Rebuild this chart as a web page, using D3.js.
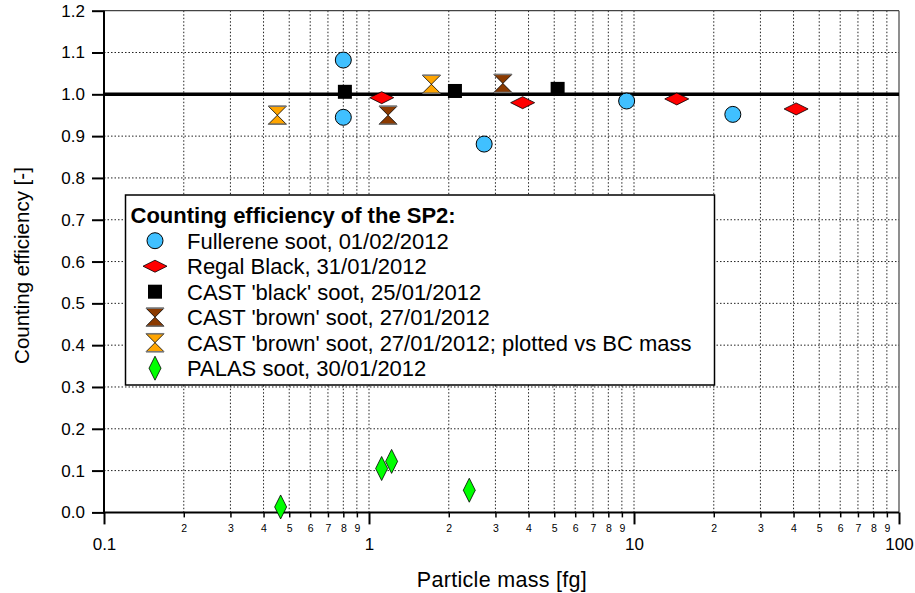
<!DOCTYPE html>
<html>
<head>
<meta charset="utf-8">
<script src="https://cdn.jsdelivr.net/npm/d3@7"></script>
<style>
  body { margin: 0; background: #fff; }
  text { font-family: "Liberation Sans", Arial, sans-serif; }
</style>
</head>
<body>
<script>
// series data: particle mass [fg] and counting efficiency [-]
var fullereneMass = [0.80, 0.80, 2.72, 9.38, 23.6];
var fullereneEff = [1.082, 0.945, 0.881, 0.984, 0.952];
var regalMass = [1.117, 3.80, 14.5, 40.9];
var regalEff = [0.992, 0.980, 0.989, 0.965];
var castBlackMass = [0.811, 2.11, 5.15];
var castBlackEff = [1.006, 1.008, 1.013];
var castBrownMass = [1.18, 3.20];
var castBrownEff = [0.950, 1.026];
var castBrownBCMass = [0.451, 1.72];
var castBrownBCEff = [0.950, 1.024];
var palasMass = [0.464, 1.116, 1.217, 2.39];
var palasEff = [0.013, 0.105, 0.122, 0.053];

var legendLabels = [
	'Fullerene soot, 01/02/2012',
	'Regal Black, 31/01/2012',
	"CAST 'black' soot, 25/01/2012",
	"CAST 'brown' soot, 27/01/2012",
	"CAST 'brown' soot, 27/01/2012; plotted vs BC mass",
	'PALAS soot, 30/01/2012'
];
var yTicks = [0, 0.1, 0.2, 0.3, 0.4, 0.5, 0.6, 0.7, 0.8, 0.9, 1.0, 1.1, 1.2];
var xMajorTicks = [0.1, 1, 10, 100];

var margin = { left: 104, right: 16, top: 10.7, bottom: 80.6 };
var W = 915, H = 593;
var width = W - margin.left - margin.right;
var height = H - margin.top - margin.bottom;

var svg = d3.select('body').append('svg').attr('width', W).attr('height', H);
var g = svg.append('g').attr('transform', 'translate(' + margin.left + ',' + margin.top + ')');

var x = d3.scaleLog().domain([0.1, 100]).range([0, width]);
var y = d3.scaleLinear().domain([0, 1.2]).range([height, 0]);

// minor ticks 2..9 for each decade
var xMinor = [];
[0.1, 1, 10].forEach(function(dec) {
	for (var k = 2; k <= 9; k++) xMinor.push(dec * k);
});

// grid
g.append('g').selectAll('line').data(xMinor.concat([1, 10])).enter().append('line')
	.attr('x1', function(d) { return x(d); }).attr('x2', function(d) { return x(d); })
	.attr('y1', 0).attr('y2', height)
	.attr('stroke', '#222').attr('stroke-width', 1).attr('stroke-dasharray', '1.5,2');
g.append('g').selectAll('line').data(yTicks.slice(1, -1)).enter().append('line')
	.attr('x1', 0).attr('x2', width)
	.attr('y1', function(d) { return y(d); }).attr('y2', function(d) { return y(d); })
	.attr('stroke', '#222').attr('stroke-width', 1).attr('stroke-dasharray', '1.5,2');

// frame top/right
g.append('line').attr('x1', 0).attr('x2', width).attr('y1', 0).attr('y2', 0)
	.attr('stroke', '#444').attr('stroke-width', 1.2);
g.append('line').attr('x1', width).attr('x2', width).attr('y1', 0).attr('y2', height)
	.attr('stroke', '#444').attr('stroke-width', 1.2);

// reference line at 1.0
g.append('line').attr('x1', 0).attr('x2', width).attr('y1', y(1)).attr('y2', y(1))
	.attr('stroke', '#000').attr('stroke-width', 3.5);

// y axis
var yAxis = g.append('g').call(d3.axisLeft(y).tickValues(yTicks).tickFormat(d3.format('.1f')).tickSize(12).tickPadding(7));
yAxis.select('.domain').attr('stroke-width', 2).attr('d', 'M0,' + (height + 1) + 'V0');
yAxis.selectAll('.tick line').attr('stroke-width', 2);
yAxis.selectAll('text').attr('font-size', 17).attr('font-family', 'Liberation Sans, Arial, sans-serif');

// x axis major
var xAxis = g.append('g').attr('transform', 'translate(0,' + height + ')')
	.call(d3.axisBottom(x).tickValues(xMajorTicks).tickFormat(function(d) { return String(d); }).tickSize(12));
xAxis.select('.domain').attr('stroke-width', 2).attr('d', 'M-1,0H' + width);
xAxis.selectAll('.tick line').attr('stroke-width', 2);
xAxis.selectAll('text').attr('font-size', 17).attr('font-family', 'Liberation Sans, Arial, sans-serif')
	.attr('y', 37.5).attr('dy', 0);

// x axis minor
var xAxisMinor = g.append('g').attr('transform', 'translate(0,' + height + ')')
	.call(d3.axisBottom(x).tickValues(xMinor).tickFormat(function(d) { return String(Math.round(d / Math.pow(10, Math.floor(Math.log10(d) + 1e-9)))); }).tickSize(5));
xAxisMinor.select('.domain').remove();
xAxisMinor.selectAll('.tick line').attr('stroke-width', 1.5);
xAxisMinor.selectAll('text').attr('font-size', 10.5).attr('font-family', 'Liberation Sans, Arial, sans-serif')
	.attr('y', 19.5).attr('dy', 0);

// axis titles
svg.append('text').attr('x', margin.left + width / 2 + 0.5).attr('y', 587)
	.attr('text-anchor', 'middle').attr('font-size', 21.5).attr('letter-spacing', 0.3).text('Particle mass [fg]');
svg.append('text').attr('transform', 'translate(29,' + (margin.top + height / 2 + 4) + ') rotate(-90)')
	.attr('text-anchor', 'middle').attr('font-size', 20.5).text('Counting efficiency [-]');

// symbols
function circle(sel) {
	sel.append('circle').attr('r', 8).attr('fill', '#40C0FF').attr('stroke', '#000').attr('stroke-width', 1);
}
function hDiamond(sel) {
	sel.append('path').attr('d', 'M-12,0L0,-6L12,0L0,6Z').attr('fill', '#FF0000').attr('stroke', '#000').attr('stroke-width', 0.8);
}
function square(sel) {
	sel.append('rect').attr('x', -7).attr('y', -7).attr('width', 14).attr('height', 14).attr('fill', '#000');
}
function hourglass(color) {
	return function(sel) {
		sel.append('path').attr('d', 'M-9,-9L9,-9L-9,9L9,9Z').attr('fill', color).attr('stroke', '#000').attr('stroke-width', 0.8);
		sel.append('line').attr('x1', -9).attr('x2', 9).attr('y1', -9).attr('y2', -9).attr('stroke', '#777').attr('stroke-width', 1.5);
		sel.append('line').attr('x1', -9).attr('x2', 9).attr('y1', 9).attr('y2', 9).attr('stroke', '#777').attr('stroke-width', 1.5);
	};
}
function vDiamond(sel) {
	sel.append('path').attr('d', 'M0,-12L6,0L0,12L-6,0Z').attr('fill', '#00FF00').attr('stroke', '#000').attr('stroke-width', 0.8);
}

var series = [
	{ mass: fullereneMass, eff: fullereneEff, sym: circle },
	{ mass: regalMass, eff: regalEff, sym: hDiamond },
	{ mass: castBlackMass, eff: castBlackEff, sym: square },
	{ mass: castBrownMass, eff: castBrownEff, sym: hourglass('#8B3A00') },
	{ mass: castBrownBCMass, eff: castBrownBCEff, sym: hourglass('#FFA500') },
	{ mass: palasMass, eff: palasEff, sym: vDiamond }
];

series.forEach(function(s) {
	var pts = s.mass.map(function(m, i) { return [m, s.eff[i]]; });
	g.append('g').selectAll('g').data(pts).enter().append('g')
		.attr('transform', function(d) { return 'translate(' + x(d[0]) + ',' + y(d[1]) + ')'; })
		.call(s.sym);
});

// legend
var lg = svg.append('g').attr('transform', 'translate(125.5,195)');
lg.append('rect').attr('width', 589).attr('height', 190).attr('fill', '#fff').attr('stroke', '#000').attr('stroke-width', 1.5);
lg.append('text').attr('x', 5).attr('y', 27.5).attr('font-size', 22).attr('font-weight', 'bold').text('Counting efficiency of the SP2:');
series.forEach(function(s, i) {
	var cy = 45.7 + i * 25.5;
	lg.append('g').attr('transform', 'translate(29.5,' + cy + ')').call(s.sym);
	lg.append('text').attr('x', 61.5).attr('y', cy + 8).attr('font-size', 22).text(legendLabels[i]);
});
</script>
</body>
</html>
